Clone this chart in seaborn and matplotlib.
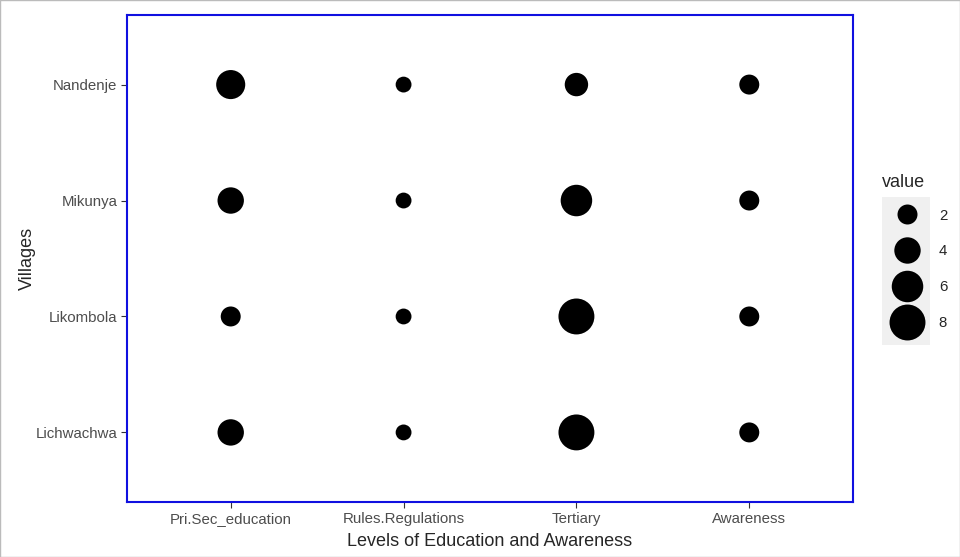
import numpy as np
import pandas as pd
import matplotlib.pyplot as plt
import seaborn as sns
from matplotlib.lines import Line2D
from matplotlib.patches import Rectangle

villages = ['Nandenje', 'Mikunya', 'Likombola', 'Lichwachwa']
levels = ['Pri.Sec_education', 'Rules.Regulations', 'Tertiary', 'Awareness']
pri_sec = [5, 4, 2, 4]
rules = [1, 1, 1, 1]
tertiary = [3, 6, 8, 8]
awareness = [2, 2, 2, 2]
legend_breaks = [2, 4, 6, 8]

df = pd.DataFrame({'village': villages, levels[0]: pri_sec, levels[1]: rules,
                   levels[2]: tertiary, levels[3]: awareness})
df = df.melt(id_vars='village', var_name='level', value_name='value')
df['level'] = pd.Categorical(df['level'], categories=levels)
df['village'] = pd.Categorical(df['village'], categories=villages)

sns.set_style('white')
plt.rcParams['font.family'] = ['Liberation Sans', 'DejaVu Sans']

size_range = (130, 669)
size_norm = (1, 8)

fig = plt.figure(figsize=(9.6, 5.57), dpi=100)
ax = fig.add_axes([127/960, 1-502/557, 726/960, 487/557])

sns.scatterplot(data=df, x='level', y='village', size='value', sizes=size_range,
                size_norm=size_norm, color='black', linewidth=0, ax=ax, legend=False)

ax.set_xlim(-0.6, 3.6)
ax.set_ylim(3.6, -0.6)
for s in ax.spines.values():
    s.set_color('#1010e0')
    s.set_linewidth(1.5)
ax.tick_params(axis='both', colors='#333333', labelsize=10.8, length=4, width=0.8,
               direction='out', bottom=True, left=True, pad=3)
for lab in ax.get_xticklabels() + ax.get_yticklabels():
    lab.set_color('#4d4d4d')
ax.set_xlabel('Levels of Education and Awareness', fontsize=13, labelpad=5)
ax.set_ylabel('Villages', fontsize=13, labelpad=0)

# legend for size
def area(v):
    return size_range[0] + (v - size_norm[0]) / (size_norm[1] - size_norm[0]) * (size_range[1] - size_range[0])

handles = [Line2D([], [], linestyle='none', marker='o', color='black',
                  markersize=np.sqrt(area(v)), markeredgewidth=0) for v in legend_breaks]
fig.add_artist(Rectangle((882/960, 1-345/557), 48/960, 148/557,
                         transform=fig.transFigure, facecolor='#f0f0f0',
                         edgecolor='none', zorder=0))
fig.text(882/960, 1-182/557, 'value', fontsize=13, ha='left', va='center')
leg = fig.legend(handles, [str(v) for v in legend_breaks], loc='upper left',
                 bbox_to_anchor=(872/960, 1-198/557), frameon=False,
                 fontsize=10.8, labelspacing=1.45,
                 handletextpad=0.55, borderpad=0.2, handlelength=3.2)

fig.add_artist(Rectangle((0, 0), 1, 1, transform=fig.transFigure, fill=False,
                         edgecolor='#bbbbbb', linewidth=1))

fig.savefig('out.png', dpi=100)
